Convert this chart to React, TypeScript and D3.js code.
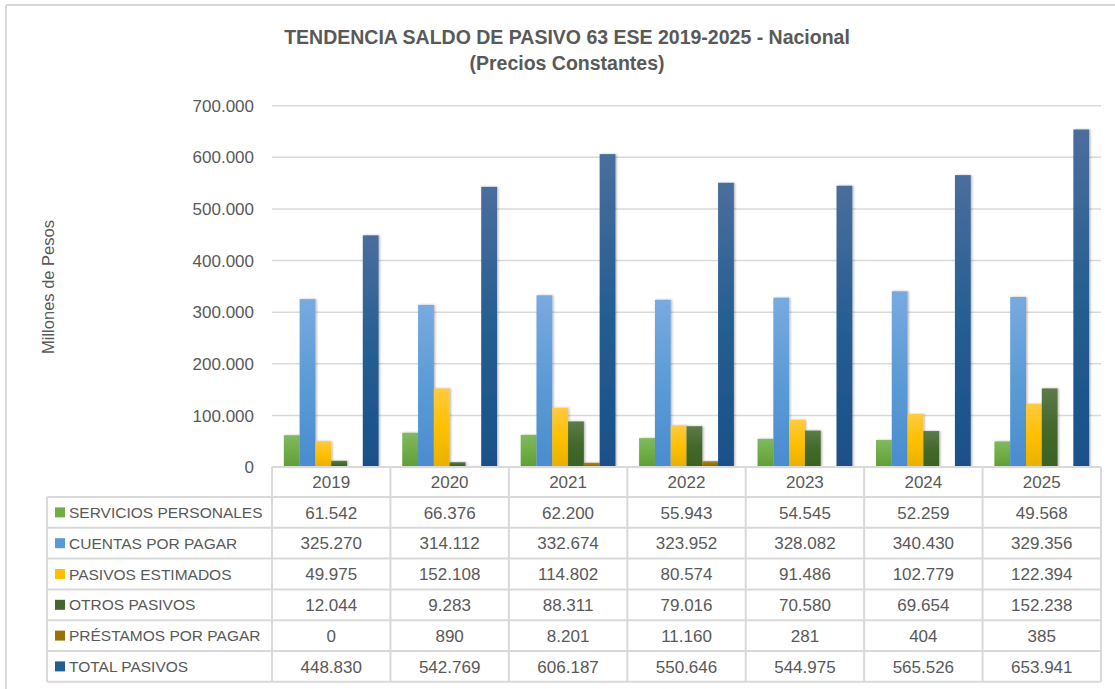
import React from "react";
import * as d3 from "d3";

const years = ["2019", "2020", "2021", "2022", "2023", "2024", "2025"];
const seriesNames = [
  "SERVICIOS PERSONALES",
  "CUENTAS POR PAGAR",
  "PASIVOS ESTIMADOS",
  "OTROS PASIVOS",
  "PRÉSTAMOS POR PAGAR",
  "TOTAL PASIVOS",
];
const serviciosPersonales = [61542, 66376, 62200, 55943, 54545, 52259, 49568];
const cuentasPorPagar = [325270, 314112, 332674, 323952, 328082, 340430, 329356];
const pasivosEstimados = [49975, 152108, 114802, 80574, 91486, 102779, 122394];
const otrosPasivos = [12044, 9283, 88311, 79016, 70580, 69654, 152238];
const prestamosPorPagar = [0, 890, 8201, 11160, 281, 404, 385];
const totalPasivos = [448830, 542769, 606187, 550646, 544975, 565526, 653941];
const yTicks = [0, 100000, 200000, 300000, 400000, 500000, 600000, 700000];

const seriesValues = [
  serviciosPersonales,
  cuentasPorPagar,
  pasivosEstimados,
  otrosPasivos,
  prestamosPorPagar,
  totalPasivos,
];
const colors = [
  { base: "#70AD47", top: "#80b960", bottom: "#5f9e36" },
  { base: "#5B9BD5", top: "#78aadf", bottom: "#4a8ccf" },
  { base: "#FFC000", top: "#ffca40", bottom: "#e8b000" },
  { base: "#43682B", top: "#5c7b4a", bottom: "#3a6222" },
  { base: "#997300", top: "#a9842c", bottom: "#8a6700" },
  { base: "#255E91", top: "#4a6e9c", bottom: "#1a5088" },
];

const locale = d3.formatLocale({
  decimal: ",",
  thousands: ".",
  grouping: [3],
  currency: ["$", ""],
});
const fmt = locale.format(",d");

const W = 1115;
const H = 689;
const FONT = "'Liberation Sans', Arial, sans-serif";
const TXT = "#595959";
const GRID = "#d9d9d9";

export default function App() {
  const plotLeft = 272;
  const plotRight = 1101;
  const y0 = 467;
  const yTop = 105.7;
  const x = d3.scaleBand<string>().domain(years).range([plotLeft, plotRight]).padding(0);
  const inner = d3
    .scaleBand<string>()
    .domain(seriesNames)
    .range([0, x.bandwidth()])
    .paddingInner(0)
    .paddingOuter(0.75);
  const y = d3.scaleLinear().domain([0, 700000]).range([y0, yTop]);

  const tableLeft = 47;
  const rowH = 30.8;
  const headerBottom = y0 + 30;
  const rowsY = seriesNames.map((_, i) => headerBottom + i * rowH);
  const tableBottom = headerBottom + seriesNames.length * rowH;

  return (
    <svg
      width={W}
      height={H}
      style={{ position: "absolute", left: 0, top: 0, background: "#fff" }}
      fontFamily={FONT}
    >
      <defs>
        {colors.map((c, i) => (
          <linearGradient key={i} id={`g${i}`} x1="0" y1="0" x2="0" y2="1">
            <stop offset="0%" stopColor={c.top} />
            <stop offset="50%" stopColor={c.base} />
            <stop offset="100%" stopColor={c.bottom} />
          </linearGradient>
        ))}
        <filter id="sh" x="-30%" y="-10%" width="160%" height="120%">
          <feDropShadow dx="1.2" dy="0" stdDeviation="1.2" floodColor="#000" floodOpacity="0.3" />
        </filter>
      </defs>
      <rect x={0} y={0} width={W} height={H} fill="#fff" />
      {/* outer border */}
      <line x1={6} y1={5} x2={W} y2={5} stroke={GRID} strokeWidth={2} />
      <line x1={6} y1={5} x2={6} y2={H} stroke={GRID} strokeWidth={2} />

      {/* title */}
      <text x={567} y={44} textAnchor="middle" fontSize={19.5} fontWeight="bold" fill={TXT}>
        TENDENCIA SALDO DE PASIVO 63 ESE 2019-2025 - Nacional
      </text>
      <text x={567} y={70} textAnchor="middle" fontSize={19.5} fontWeight="bold" fill={TXT}>
        (Precios Constantes)
      </text>

      {/* gridlines & y ticks */}
      {yTicks.map((t) => (
        <g key={t}>
          {t > 0 && (
            <line x1={plotLeft} x2={plotRight} y1={y(t)} y2={y(t)} stroke={GRID} strokeWidth={1.5} />
          )}
          <text x={254} y={y(t)} dy="0.36em" textAnchor="end" fontSize={17} fill={TXT}>
            {fmt(t)}
          </text>
        </g>
      ))}
      <text
        transform={`translate(54, 287) rotate(-90)`}
        textAnchor="middle"
        fontSize={16.5}
        fill={TXT}
      >
        Millones de Pesos
      </text>

      {/* bars */}
      {seriesNames.map((s, si) => (
        <g key={s} filter="url(#sh)">
          {years.map((yr, yi) => {
            const v = seriesValues[si][yi];
            const h = y0 - y(v);
            if (h <= 0) return null;
            return (
              <rect
                key={yr}
                x={(x(yr) as number) + (inner(s) as number)}
                y={y(v)}
                width={inner.bandwidth()}
                height={h}
                fill={`url(#g${si})`}
              />
            );
          })}
        </g>
      ))}

      {/* table */}
      <g stroke={GRID} strokeWidth={2} fill="none">
        <line x1={plotLeft} x2={plotRight} y1={y0} y2={y0} />
        {rowsY.map((ry, i) => (
          <line key={i} x1={tableLeft} x2={plotRight} y1={ry} y2={ry} />
        ))}
        <line x1={tableLeft} x2={plotRight} y1={tableBottom} y2={tableBottom} />
        <line x1={tableLeft} x2={tableLeft} y1={headerBottom} y2={tableBottom} />
        {years.map((yr) => (
          <line key={yr} x1={x(yr)} x2={x(yr)} y1={y0} y2={tableBottom} />
        ))}
        <line x1={plotRight} x2={plotRight} y1={y0} y2={tableBottom} />
      </g>
      {years.map((yr) => (
        <text
          key={yr}
          x={(x(yr) as number) + x.bandwidth() / 2}
          y={(y0 + headerBottom) / 2}
          dy="0.36em"
          textAnchor="middle"
          fontSize={17}
          fill={TXT}
        >
          {yr}
        </text>
      ))}
      {seriesNames.map((s, si) => {
        const cy = rowsY[si] + rowH / 2;
        return (
          <g key={s}>
            <rect x={55} y={cy - 5} width={10} height={10} fill={colors[si].base} />
            <text x={69} y={cy} dy="0.36em" fontSize={15.5} fill={TXT}>
              {s}
            </text>
            {years.map((yr, yi) => (
              <text
                key={yr}
                x={(x(yr) as number) + x.bandwidth() / 2}
                y={cy}
                dy="0.36em"
                textAnchor="middle"
                fontSize={17}
                fill={TXT}
              >
                {fmt(seriesValues[si][yi])}
              </text>
            ))}
          </g>
        );
      })}
    </svg>
  );
}
